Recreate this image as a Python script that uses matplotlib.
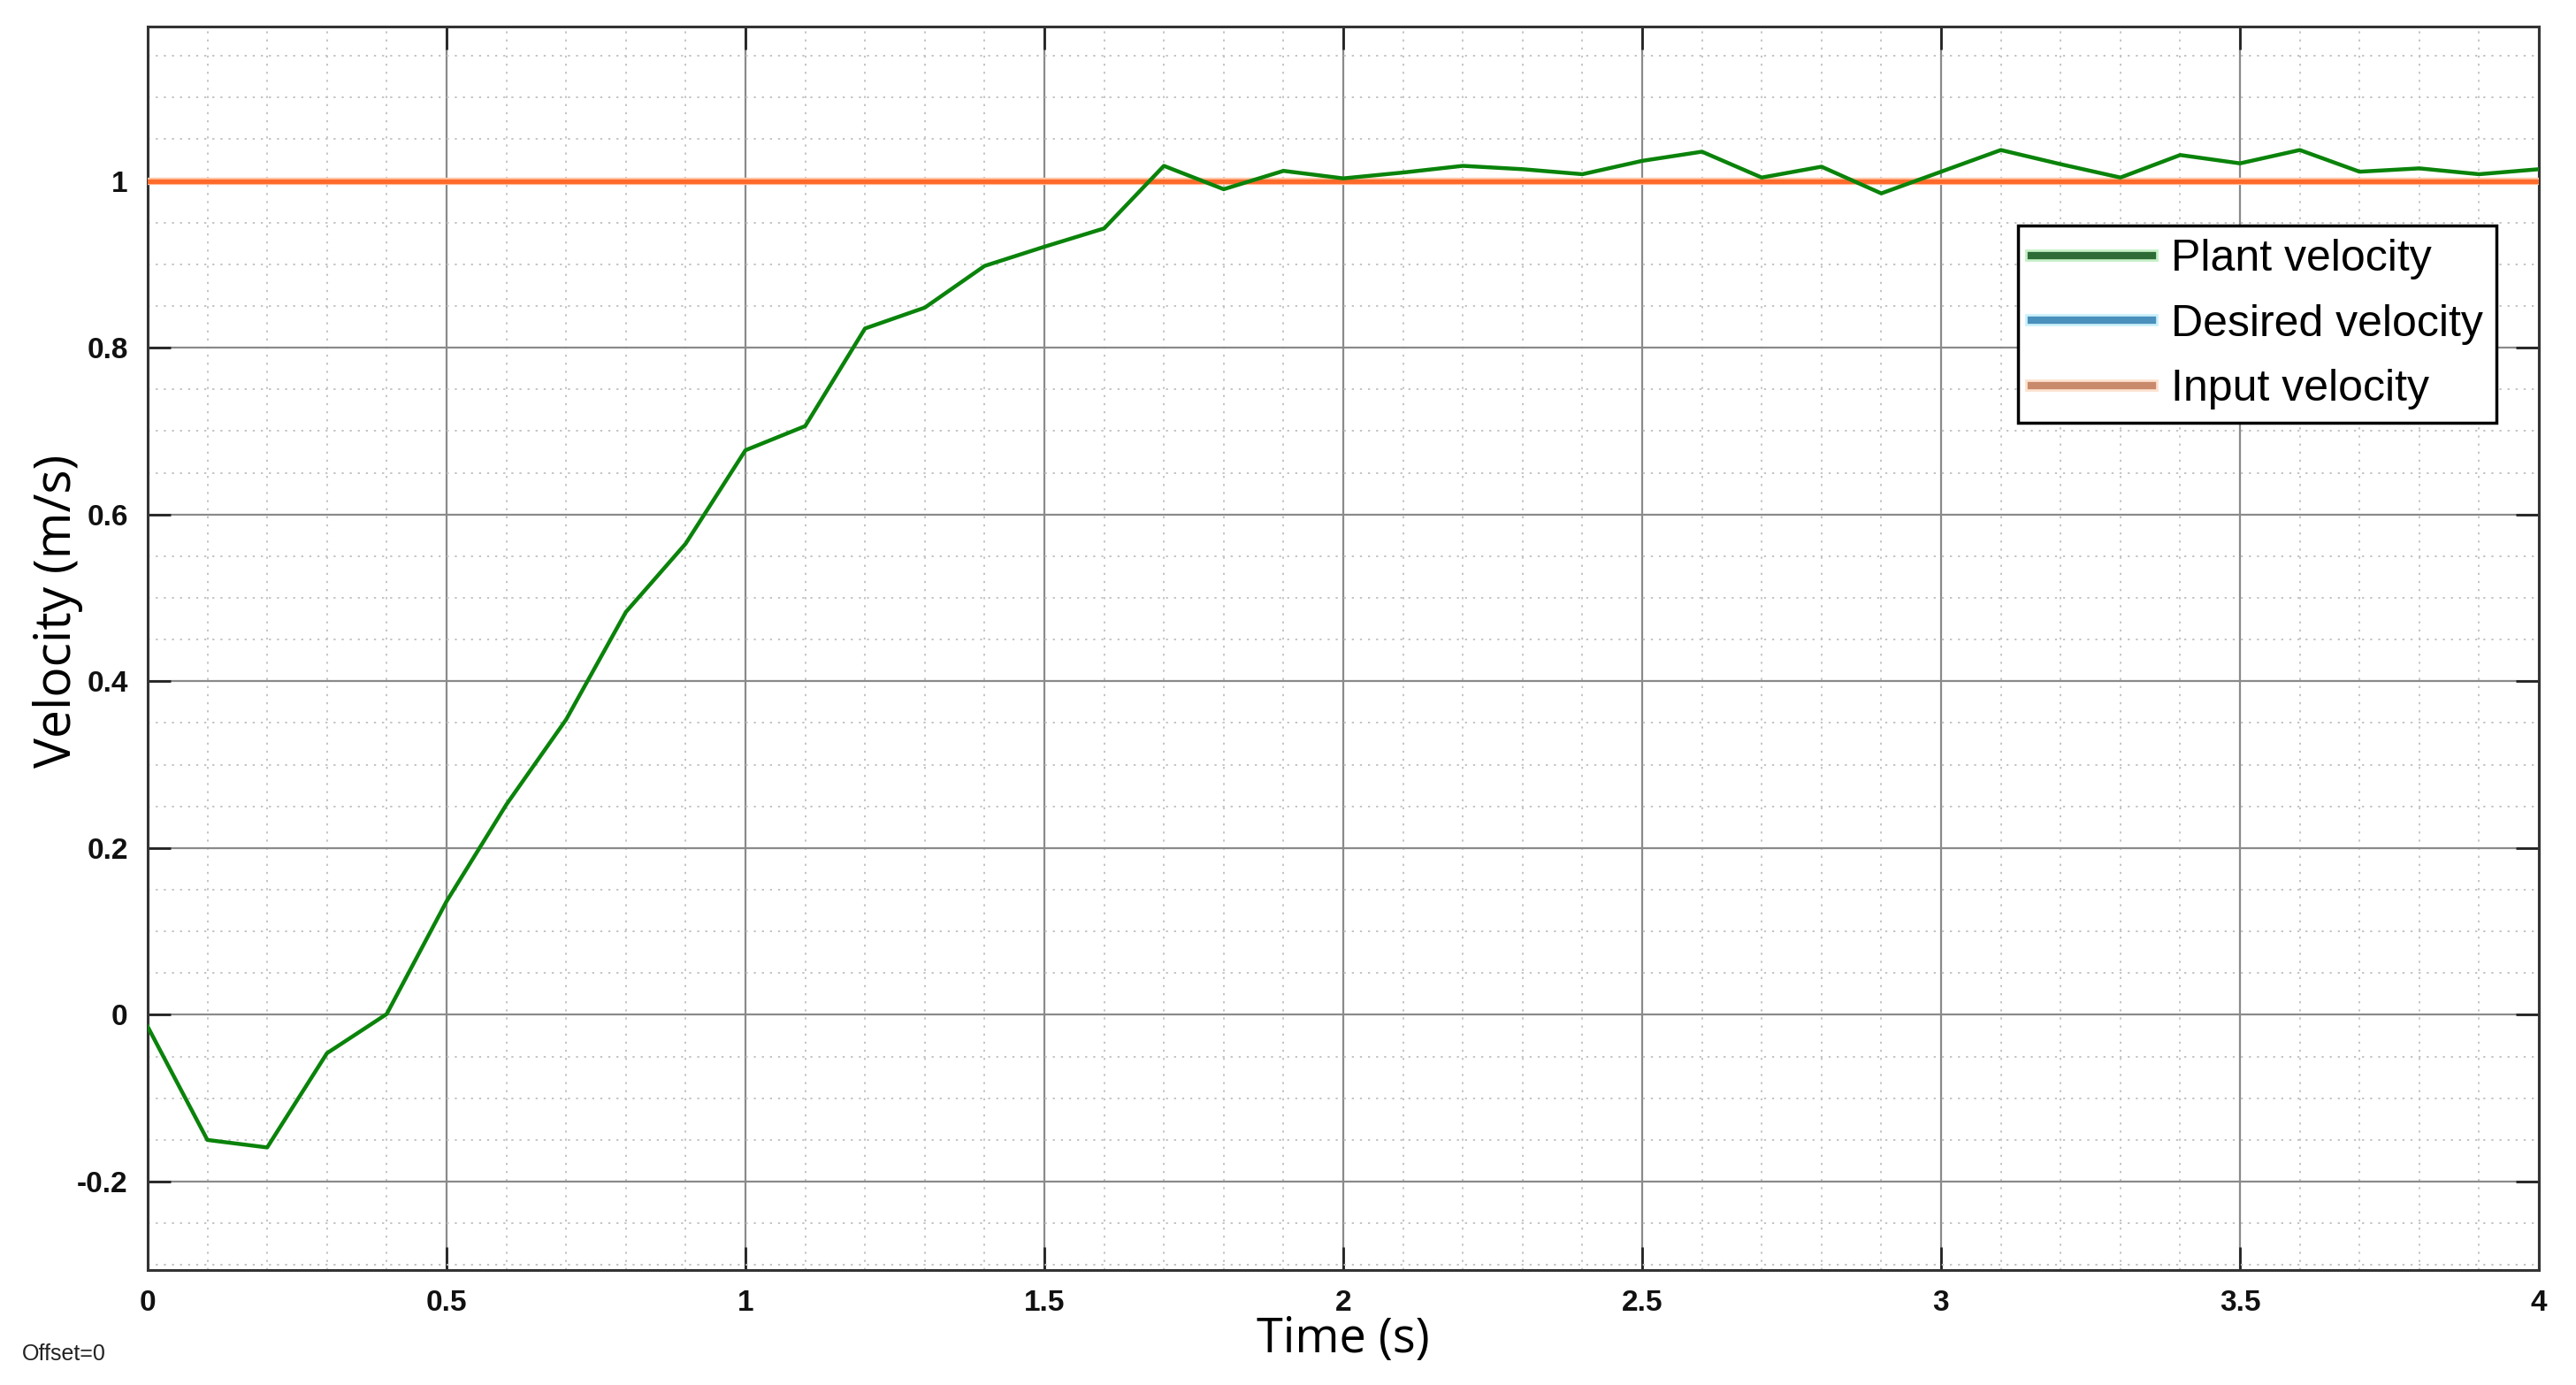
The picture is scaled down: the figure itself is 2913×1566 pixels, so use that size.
import numpy as np
import matplotlib
matplotlib.use("Agg")
import matplotlib.pyplot as plt
import matplotlib.patheffects as pe
from matplotlib.lines import Line2D
from matplotlib.ticker import MultipleLocator

# sampled every 0.1 s
time = [0.0, 0.1, 0.2, 0.3, 0.4, 0.5, 0.6, 0.7, 0.8, 0.9,
        1.0, 1.1, 1.2, 1.3, 1.4, 1.5, 1.6, 1.7, 1.8, 1.9,
        2.0, 2.1, 2.2, 2.3, 2.4, 2.5, 2.6, 2.7, 2.8, 2.9,
        3.0, 3.1, 3.2, 3.3, 3.4, 3.5, 3.6, 3.7, 3.8, 3.9, 4.0]
plant_velocity = [-0.014, -0.150, -0.159, -0.046, 0.001, 0.136, 0.252, 0.354, 0.483, 0.565,
                  0.677, 0.706, 0.823, 0.848, 0.898, 0.921, 0.943, 1.018, 0.990, 1.012,
                  1.003, 1.010, 1.018, 1.014, 1.008, 1.024, 1.035, 1.004, 1.017, 0.985,
                  1.011, 1.037, 1.020, 1.004, 1.031, 1.021, 1.037, 1.011, 1.015, 1.008, 1.014]
desired_velocity = [1.0] * len(time)
input_velocity = [1.0] * len(time)

x_ticks = [0, 0.5, 1, 1.5, 2, 2.5, 3, 3.5, 4]
x_tick_labels = ["0", "0.5", "1", "1.5", "2", "2.5", "3", "3.5", "4"]
y_ticks = [-0.2, 0, 0.2, 0.4, 0.6, 0.8, 1]
y_tick_labels = ["-0.2", "0", "0.2", "0.4", "0.6", "0.8", "1"]

fig = plt.figure(figsize=(29.13, 15.66), dpi=100)
ax = fig.add_axes([0.0573, 0.083, 0.9283, 0.8978])

ax.plot(time, desired_velocity, color="#4a8fc0", lw=3.5, zorder=3)
ax.plot(time, input_velocity, color="#ff6a2b", lw=3.8, zorder=4,
        path_effects=[pe.Stroke(linewidth=6, foreground="#ffc7a8"), pe.Normal()])
ax.plot(time, plant_velocity, color="#0a830a", lw=3.2, zorder=5)

ax.set_xlim(0, 4)
ax.set_ylim(-0.306, 1.185)
ax.set_xticks(x_ticks)
ax.set_xticklabels(x_tick_labels)
ax.set_yticks(y_ticks)
ax.set_yticklabels(y_tick_labels)
ax.xaxis.set_minor_locator(MultipleLocator(0.1))
ax.yaxis.set_minor_locator(MultipleLocator(0.05))

ax.grid(True, which="major", color="#8a8a8a", lw=1.6, ls="-", zorder=1)
ax.grid(True, which="minor", color="#c4c4c4", lw=1.4, ls=(0, (1.2, 3.5)), zorder=0)
ax.set_axisbelow(True)

ax.tick_params(which="major", direction="in", length=19, width=2, color="#222222",
               top=True, right=True, pad=16)
ax.tick_params(which="minor", length=0)
for lab in ax.get_xticklabels() + ax.get_yticklabels():
    lab.set_fontfamily("Liberation Sans")
    lab.set_fontweight("bold")
    lab.set_fontsize(24)
    lab.set_color("#111111")
for s in ax.spines.values():
    s.set_linewidth(2.2)
    s.set_color("#333333")

ax.set_xlabel("Time (s)", fontsize=39, family="Open Sans")
ax.set_ylabel("Velocity (m/s)", fontsize=41, family="Open Sans")
ax.xaxis.set_label_coords(0.5, -0.036)
ax.yaxis.set_label_coords(-0.027, 0.53)

fig.text(0.0085, 0.018, "Offset=0", fontsize=18, family="Liberation Sans", color="#222222")

# legend handles look different from the plotted lines (soft glow)
handles = [
    Line2D([], [], color="#2e6b36", lw=6,
           path_effects=[pe.Stroke(linewidth=10, foreground="#c8f0c8"), pe.Normal()]),
    Line2D([], [], color="#4a90bd", lw=6,
           path_effects=[pe.Stroke(linewidth=10, foreground="#cdf2fb"), pe.Normal()]),
    Line2D([], [], color="#c98a6b", lw=6,
           path_effects=[pe.Stroke(linewidth=10, foreground="#fde3d2"), pe.Normal()]),
]
leg = ax.legend(handles, ["Plant velocity", "Desired velocity", "Input velocity"],
                loc="upper left", bbox_to_anchor=(0.782, 0.840), borderaxespad=0,
                prop={"family": "Liberation Sans", "size": 36},
                handlelength=2.75, handletextpad=0.42, borderpad=0.3,
                labelspacing=0.55, fancybox=False, framealpha=1)
leg.get_frame().set_edgecolor("black")
leg.get_frame().set_linewidth(2.5)
leg.set_zorder(10)

fig.savefig("out.png", dpi=100)
